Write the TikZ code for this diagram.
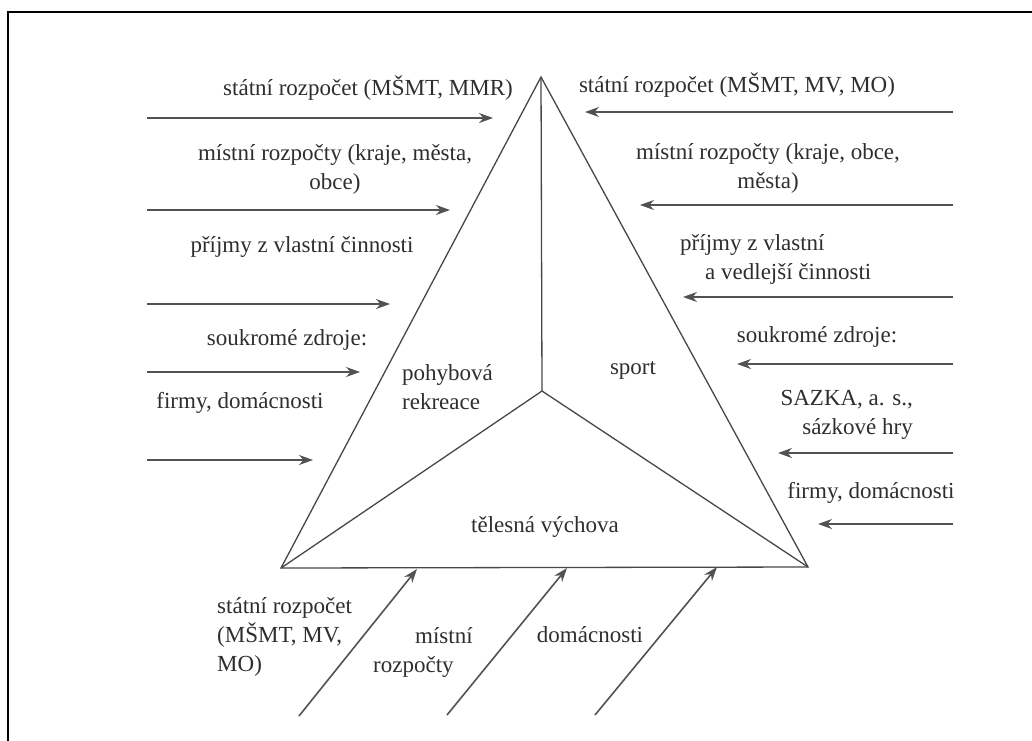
\documentclass[tikz,border=0pt]{standalone}
\usepackage{fontspec}
\setmainfont{Liberation Serif}
\usetikzlibrary{arrows.meta}
\begin{document}
\begin{tikzpicture}[x=1pt,y=-1pt,
  lab/.style={inner sep=0pt, text=black!82, font=\fontsize{23}{29}\selectfont, align=center},
  edge/.style={draw=black!72, line width=1.3pt},
  flow/.style={draw=black!68, line width=1.6pt, -{Stealth[length=14pt,width=10pt]}},
  frame/.style={draw=black, line width=2.2pt}
]
\useasboundingbox (0,0) rectangle (1032,740);
% outer frame (only top and left visible)
\coordinate (f1) at (8,745);
\coordinate (f2) at (8,12);
\coordinate (f3) at (1040,12);
\draw[frame] (f1) -- (f2) -- (f3);

% triangle
\coordinate (A) at (541,77);
\coordinate (BL) at (281,568);
\coordinate (BR) at (808,567);
\coordinate (C) at (542,391);
\draw[edge, line join=miter] (A) -- (BL) -- (BR) -- cycle;
\draw[edge] (A) -- (C);
\draw[edge] (C) -- (BL);
\draw[edge] (C) -- (BR);

% inner labels
\node[lab, align=left, anchor=west] (pr) at (402,387) {pohybová\\rekreace};
\node[lab] (sp) at (633,370) {sport};
\node[lab] (tv) at (545,527) {tělesná výchova};

% left side
\node[lab] (l1) at (368,88) {státní rozpočet (MŠMT, MMR)};
\node[lab] (l2) at (335,169) {místní rozpočty (kraje, města,\\obce)};
\node[lab] (l3) at (302,247) {příjmy z vlastní činnosti};
\node[lab] (l4) at (287,340) {soukromé zdroje:};
\node[lab] (l5) at (240,403) {firmy, domácnosti};
\coordinate (l1s) at (147,118); \coordinate (l1e) at (493,118);
\coordinate (l2s) at (147,210); \coordinate (l2e) at (450,210);
\coordinate (l3s) at (147,304); \coordinate (l3e) at (390,304);
\coordinate (l4s) at (147,372); \coordinate (l4e) at (360,372);
\coordinate (l5s) at (147,460); \coordinate (l5e) at (313,460);
\draw[flow] (l1s) -- (l1e);
\draw[flow] (l2s) -- (l2e);
\draw[flow] (l3s) -- (l3e);
\draw[flow] (l4s) -- (l4e);
\draw[flow] (l5s) -- (l5e);

% right side
\node[lab] (r1) at (737,85) {státní rozpočet (MŠMT, MV, MO)};
\node[lab] (r2) at (768,168) {místní rozpočty (kraje, obce,\\města)};
\node[lab, align=left, anchor=west] (r3) at (680,259) {příjmy z vlastní\\\hspace*{25pt}a vedlejší činnosti};
\node[lab] (r4) at (817,337) {soukromé zdroje:};
\node[lab, align=right, anchor=east] (r5) at (913,415) {SAZKA, a. s.,\\sázkové hry};
\node[lab] (r6) at (871,493) {firmy, domácnosti};
\coordinate (r1s) at (953,112); \coordinate (r1e) at (585,112);
\coordinate (r2s) at (953,205); \coordinate (r2e) at (640,205);
\coordinate (r3s) at (953,297); \coordinate (r3e) at (683,297);
\coordinate (r4s) at (953,364); \coordinate (r4e) at (737,364);
\coordinate (r5s) at (953,453); \coordinate (r5e) at (778,453);
\coordinate (r6s) at (953,524); \coordinate (r6e) at (818,524);
\draw[flow] (r1s) -- (r1e);
\draw[flow] (r2s) -- (r2e);
\draw[flow] (r3s) -- (r3e);
\draw[flow] (r4s) -- (r4e);
\draw[flow] (r5s) -- (r5e);
\draw[flow] (r6s) -- (r6e);

% bottom side
\node[lab, align=left, anchor=west] (b1) at (217,637) {státní rozpočet\\(MŠMT, MV,\\MO)};
\node[lab, align=left, anchor=west] (b2) at (373,652) {\hspace*{42pt}místní\\rozpočty};
\node[lab] (b3) at (590,635) {domácnosti};
\coordinate (b1s) at (299,716); \coordinate (b1e) at (417,569);
\coordinate (b2s) at (447,715); \coordinate (b2e) at (567,568);
\coordinate (b3s) at (595,715); \coordinate (b3e) at (717,567);
\draw[flow] (b1s) -- (b1e);
\draw[flow] (b2s) -- (b2e);
\draw[flow] (b3s) -- (b3e);
\end{tikzpicture}
\end{document}
